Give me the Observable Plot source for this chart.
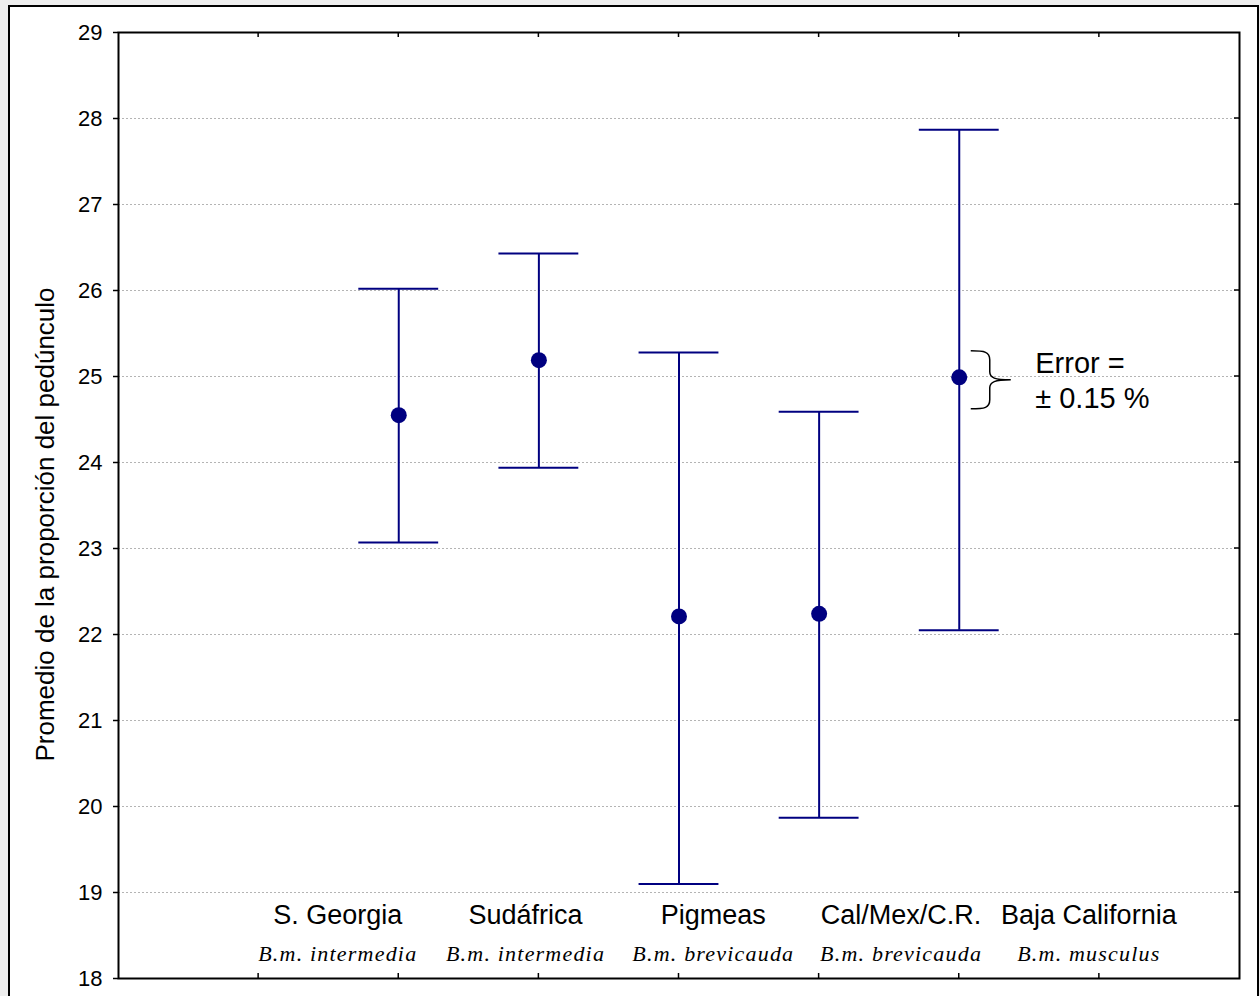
<!DOCTYPE html>
<html><head><meta charset="utf-8">
<script src="https://cdn.jsdelivr.net/npm/d3@7"></script>
<script src="https://cdn.jsdelivr.net/npm/@observablehq/plot@0.6"></script>
<style>
html,body{margin:0;padding:0;background:#eeeeee;width:1260px;height:996px;overflow:hidden;}
#box{position:absolute;left:8px;top:5px;width:1251px;height:1100px;background:#fff;border:2px solid #000;box-sizing:border-box;}
#chart{position:absolute;left:0;top:0;}
</style></head><body><div id="box"></div><div id="chart"></div>
<script>
// ---- data ----
const regions = ["S. Georgia", "Sudáfrica", "Pigmeas", "Cal/Mex/C.R.", "Baja California"];
const subspecies = ["B.m. intermedia", "B.m. intermedia", "B.m. brevicauda", "B.m. brevicauda", "B.m. musculus"];
const means = [24.55, 25.19, 22.21, 22.24, 24.99];
const upper = [26.02, 26.43, 25.28, 24.59, 27.87];
const lower = [23.07, 23.94, 19.10, 19.87, 22.05];
const yTicks = [18, 19, 20, 21, 22, 23, 24, 25, 26, 27, 28, 29];
const gridTicks = [19, 20, 21, 22, 23, 24, 25, 26, 27, 28];
const xTicks = [1, 2, 3, 4, 5, 6, 7];
const yLabel = "Promedio de la proporción del pedúnculo";
const errorNote = "Error =\n± 0.15 %";
const annotatedIndex = 4;

// ---- layout helpers ----
const pos = i => i + 2;                 // category slot on the 0..8 axis
const capHalf = 0.285;                  // half cap width in slot units
const labelPos = i => 1.565 + i * 1.34; // label row centres
const navy = "#000080";
const idx = d3.range(regions.length);

function innerTicks(index, scales, values, dims) {
  const {x, y} = scales;
  const L = 5;
  const g = d3.create("svg:g").attr("stroke", "black").attr("stroke-width", 1.5);
  const top = dims.marginTop, bottom = dims.height - dims.marginBottom, right = dims.width - dims.marginRight;
  for (const t of xTicks) {
    g.append("line").attr("x1", x(t)).attr("x2", x(t)).attr("y1", top).attr("y2", top + L);
    g.append("line").attr("x1", x(t)).attr("x2", x(t)).attr("y1", bottom).attr("y2", bottom - L);
  }
  for (const v of gridTicks) {
    g.append("line").attr("x1", right).attr("x2", right - L).attr("y1", y(v)).attr("y2", y(v));
  }
  return g.node();
}

function brace(index, scales) {
  const {x, y} = scales;
  const x0 = x(pos(annotatedIndex)) + 12, x1 = x0 + 19, x2 = x0 + 40;
  const cy = y(means[annotatedIndex]) + 3, top = cy - 29, bot = cy + 29;
  const d = `M${x0},${top} C${x0 + 14},${top} ${x1},${top + 1} ${x1},${top + 9} L${x1},${cy - 8} C${x1},${cy - 2} ${x1 + 5},${cy} ${x2},${cy} C${x1 + 5},${cy} ${x1},${cy + 2} ${x1},${cy + 8} L${x1},${bot - 9} C${x1},${bot - 1} ${x0 + 14},${bot} ${x0},${bot}`;
  return d3.create("svg:path").attr("d", d).attr("fill", "none").attr("stroke", "black").attr("stroke-width", 1.5).node();
}

const chart = Plot.plot({
  width: 1260,
  height: 996,
  marginLeft: 118,
  marginTop: 32,
  marginRight: 21,
  marginBottom: 18,
  style: {fontFamily: "'Liberation Sans', Arial, sans-serif", background: "transparent", overflow: "visible"},
  x: {domain: [0, 8], axis: null},
  y: {domain: [18, 29], axis: null},
  marks: [
    Plot.gridY(gridTicks, {stroke: "#b4b4b4", strokeOpacity: 1, strokeDasharray: "2,2", strokeWidth: 1}),
    Plot.axisY(yTicks, {anchor: "left", tickSize: 5, tickPadding: 11, fontSize: 22, tickFormat: d => String(d), label: null, stroke: "black", strokeWidth: 1.5, color: "black"}),
    Plot.text([yLabel], {frameAnchor: "left", rotate: -90, dx: -65, dy: 19, lineAnchor: "bottom", textAnchor: "middle", fontSize: 26, fill: "black"}),
    Plot.ruleX(idx, {x: pos, y1: i => lower[i], y2: i => upper[i], stroke: navy, strokeWidth: 2}),
    Plot.ruleY(idx, {y: i => upper[i], x1: i => pos(i) - capHalf, x2: i => pos(i) + capHalf, stroke: navy, strokeWidth: 2}),
    Plot.ruleY(idx, {y: i => lower[i], x1: i => pos(i) - capHalf, x2: i => pos(i) + capHalf, stroke: navy, strokeWidth: 2}),
    Plot.dot(idx, {x: pos, y: i => means[i], r: 8, fill: navy, stroke: "none"}),
    Plot.text(idx, {x: labelPos, text: i => regions[i], frameAnchor: "bottom", dy: -55, lineAnchor: "bottom", textAnchor: "middle", fontSize: 27, fill: "black"}),
    Plot.text(idx, {x: labelPos, text: i => subspecies[i], frameAnchor: "bottom", dy: -18, lineAnchor: "bottom", textAnchor: "middle", fontSize: 22, fontFamily: "'Liberation Serif', 'Times New Roman', serif", fontStyle: "italic", fill: "black"}),
    brace,
    Plot.text([annotatedIndex], {x: pos, y: i => means[i], text: () => errorNote, textAnchor: "start", lineAnchor: "middle", lineHeight: 1.22, dx: 76, dy: 1.5, fontSize: 29, fill: "black"}),
    innerTicks,
    Plot.frame({stroke: "black", strokeWidth: 2})
  ]
});
chart.querySelectorAll('g[font-style="italic"] text').forEach(t => t.style.letterSpacing = "1.2px");
document.getElementById("chart").appendChild(chart);
</script></body></html>
